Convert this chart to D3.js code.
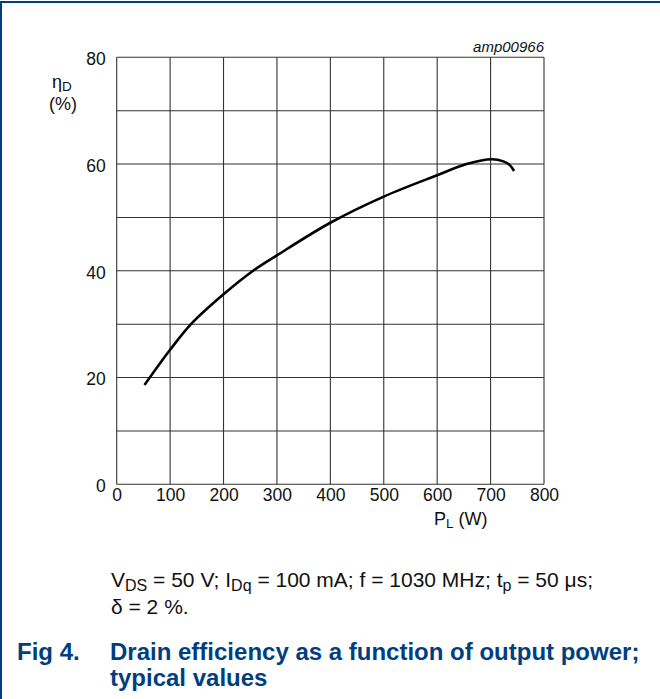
<!DOCTYPE html>
<html><head><meta charset="utf-8">
<script src="https://cdn.jsdelivr.net/npm/d3@7/dist/d3.min.js"></script>
<style>
html,body{margin:0;padding:0;background:#fff;}
svg{display:block;font-family:Arial,"Liberation Sans",sans-serif;}
</style></head>
<body>
<svg id="chart" width="660" height="699"></svg>
<script>
const xTicks = [0,100,200,300,400,500,600,700,800];
const yTicks = [0,20,40,60,80];
const yGrid = [0,10,20,30,40,50,60,70,80];
const powerW = [52,100,140,200,258,300,400,500,600,655,702,724,736,744];
const effPct = [18.6,25.2,30.1,35.6,40.2,42.9,49.0,53.9,57.9,60.0,60.9,60.5,59.8,58.7];

const svg = d3.select("#chart");
const blue = "#003f7f";
const FF = "Arial,'Liberation Sans',sans-serif";

svg.append("line").attr("x1",0).attr("x2",660).attr("y1",2).attr("y2",2).attr("stroke",blue).attr("stroke-width",2);
svg.append("line").attr("x1",1).attr("x2",1).attr("y1",1).attr("y2",699).attr("stroke",blue).attr("stroke-width",2);

const x = d3.scaleLinear().domain([0,800]).range([116.7,544]);
const y = d3.scaleLinear().domain([0,80]).range([484.3,57.3]);

const g = svg.append("g");
g.selectAll(".vg").data(xTicks).enter().append("line")
  .attr("x1",d=>x(d)).attr("x2",d=>x(d)).attr("y1",y(0)).attr("y2",y(80))
  .attr("stroke","#333").attr("stroke-width",1.1);
g.selectAll(".hg").data(yGrid).enter().append("line")
  .attr("x1",x(0)).attr("x2",x(800)).attr("y1",d=>y(d)).attr("y2",d=>y(d))
  .attr("stroke","#333").attr("stroke-width",1.1);

const ax = svg.append("g").attr("transform",`translate(0,${y(0)})`)
  .call(d3.axisBottom(x).tickValues(xTicks).tickSize(0).tickPadding(4));
ax.select(".domain").remove();
ax.selectAll("text").attr("font-size",17.5).attr("font-family",FF).attr("fill","#111");

const ay = svg.append("g").attr("transform",`translate(${x(0)},0)`)
  .call(d3.axisLeft(y).tickValues(yTicks).tickSize(0).tickPadding(11));
ay.select(".domain").remove();
ay.selectAll("text").attr("font-size",17.5).attr("font-family",FF).attr("fill","#111").attr("dy","0.42em");

const pts = powerW.map((p,i)=>[p,effPct[i]]);
svg.append("path").datum(pts)
  .attr("d", d3.line().x(d=>x(d[0])).y(d=>y(d[1])).curve(d3.curveCatmullRom.alpha(0.5)))
  .attr("fill","none").attr("stroke","#000").attr("stroke-width",2.6);

svg.append("text").attr("x",544).attr("y",52).attr("text-anchor","end")
  .attr("font-size",15).attr("font-style","italic").attr("fill","#111").text("amp00966");

const yl = svg.append("text").attr("x",52).attr("y",88).attr("font-size",18).attr("fill","#111");
yl.append("tspan").text("η");
yl.append("tspan").attr("font-size",13.5).attr("dy",2.5).text("D");
svg.append("text").attr("x",63).attr("y",110).attr("text-anchor","middle").attr("font-size",18).attr("fill","#111").text("(%)");

const xl = svg.append("text").attr("x",434).attr("y",524.5).attr("font-size",18).attr("fill","#111");
xl.append("tspan").text("P");
xl.append("tspan").attr("font-size",13.5).attr("dy",3.5).text("L");
xl.append("tspan").attr("dy",-3.5).text(" (W)");

const c1 = svg.append("text").attr("x",111).attr("y",587).attr("font-size",21).attr("fill","#111");
c1.append("tspan").text("V");
c1.append("tspan").attr("font-size",16).attr("dy",4).text("DS");
c1.append("tspan").attr("dy",-4).text(" = 50 V; I");
c1.append("tspan").attr("font-size",16).attr("dy",4).text("Dq");
c1.append("tspan").attr("dy",-4).text(" = 100 mA; f = 1030 MHz; t");
c1.append("tspan").attr("font-size",16).attr("dy",4).text("p");
c1.append("tspan").attr("dy",-4).text(" = 50 μs;");
svg.append("text").attr("x",111).attr("y",614).attr("font-size",21).attr("fill","#111").text("δ = 2 %.");

svg.append("text").attr("x",17).attr("y",660).attr("font-size",24).attr("font-weight","bold").attr("fill",blue).text("Fig 4.");
svg.append("text").attr("x",110).attr("y",660).attr("font-size",24).attr("font-weight","bold").attr("fill",blue).text("Drain efficiency as a function of output power;");
svg.append("text").attr("x",110).attr("y",686).attr("font-size",24).attr("font-weight","bold").attr("fill",blue).text("typical values");
</script>
</body></html>
